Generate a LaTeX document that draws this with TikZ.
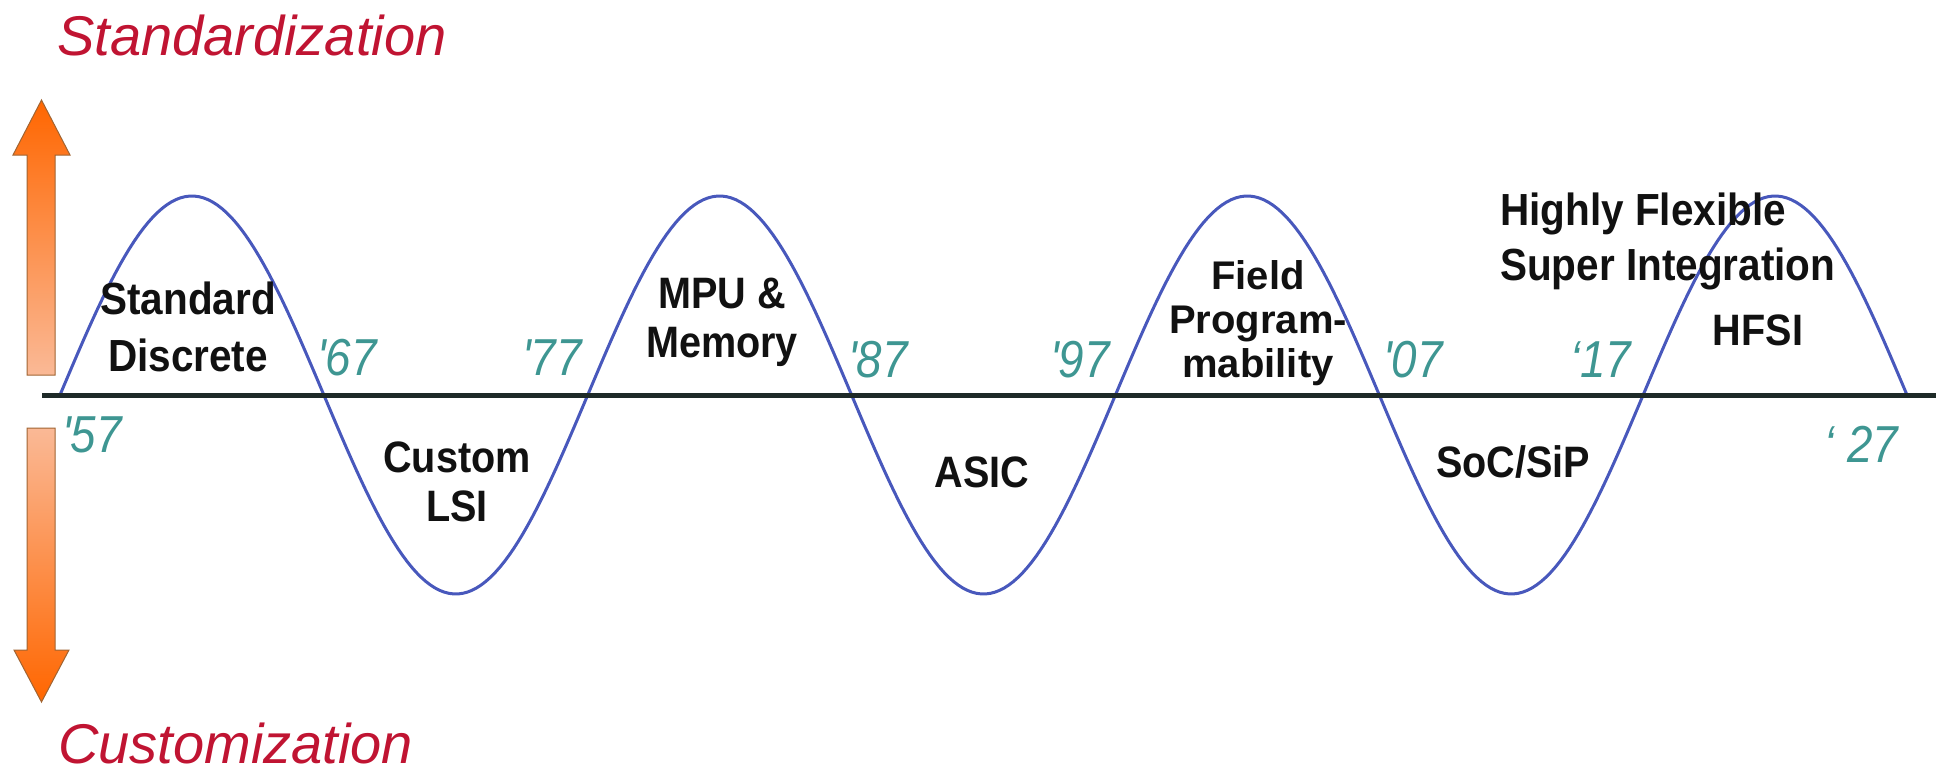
\documentclass[tikz,border=0pt]{standalone}
\usepackage{fontspec}
\setmainfont{Liberation Sans}
\newfontfamily\lblfont[FakeStretch=0.9]{Liberation Sans}
\newfontfamily\widefont{Liberation Sans}
\newfontfamily\yrfont[FakeStretch=0.88,Ligatures=TeXOff]{Liberation Sans}
\definecolor{crimsonred}{RGB}{192,20,50}
\definecolor{yrteal}{RGB}{62,150,146}
\definecolor{waveblue}{RGB}{72,88,188}
\definecolor{axisdark}{RGB}{30,42,40}
\definecolor{arrorange}{RGB}{255,102,0}
\definecolor{arrpeach}{RGB}{250,185,150}
\definecolor{arredge}{RGB}{160,100,50}
\definecolor{lblblack}{RGB}{17,17,17}
\begin{document}
\begin{tikzpicture}[x=1pt,y=-1pt,
 lbl/.style={font=\lblfont\bfseries\fontsize{44}{49}\selectfont, align=center, inner sep=0pt, text=lblblack},
 lbls/.style={font=\lblfont\bfseries\fontsize{45}{57}\selectfont, align=center, inner sep=0pt, text=lblblack},
 lblf/.style={font=\widefont\bfseries\fontsize{40}{44}\selectfont, align=center, inner sep=0pt, text=lblblack},
 lblh/.style={font=\lblfont\bfseries\fontsize{45}{55}\selectfont, align=left, anchor=west, inner sep=0pt, text=lblblack},
 yr/.style={font=\yrfont\itshape\fontsize{52}{52}\selectfont, text=yrteal, inner sep=0pt, anchor=base west},
 title/.style={font=\itshape\fontsize{56}{56}\selectfont, text=crimsonred, inner sep=0pt, anchor=base west},
 wave/.style={draw=waveblue, line width=3pt},
 axisline/.style={draw=axisdark, line width=5pt},
 uparr/.style={top color=arrorange, bottom color=arrpeach, draw=arredge, line width=1pt},
 dnarr/.style={top color=arrpeach, bottom color=arrorange, draw=arredge, line width=1pt},
]
\useasboundingbox (0,0) rectangle (1936,779);

% arrows
\shade[uparr] (27,375) -- (27,155) -- (13,155) -- (41.5,100) -- (70,155) -- (55,155) -- (55,375) -- cycle;
\shade[dnarr] (27,428) -- (27,650) -- (14,650) -- (41.5,702) -- (69,650) -- (55,650) -- (55,428) -- cycle;

% titles
\node[title] (std) at (57,55) {Standardization};
\node[title] (cust) at (58,763) {Customization};

% wave and axis
\draw[wave] plot[domain=60:1907,samples=400] (\x,{395-199*sin((\x-60)/263.857*180)});
\coordinate (axl) at (42,395);
\coordinate (axr) at (1936,395);
\draw[axisline] (axl) -- (axr);

% labels
\node[lbls] (sd) at (188,327) {Standard\\Discrete};
\node[lbl] (cl) at (457,482) {Custom\\LSI};
\node[lbl] (mm) at (722,322) {MPU \&\\Memory};
\node[lbl] (asic) at (982,472) {ASIC};
\node[lblf] (fp) at (1258,323) {Field\\Program-\\mability};
\node[lbl] (soc) at (1513,462) {SoC/SiP};
\node[lblh] (hf) at (1500,241) {Highly Flexible\\Super Integration};
\node[lbl] (hfsi) at (1758,330) {HFSI};

% years
\node[yr] (y57) at (62,452) {'57};
\node[yr] (y67) at (317,375) {'67};
\node[yr] (y77) at (522,375) {'77};
\node[yr] (y87) at (848,377) {'87};
\node[yr] (y97) at (1050,377) {'97};
\node[yr] (y07) at (1383,377) {'07};
\node[yr] (y17) at (1570,377) {‘17};
\node[yr] (y27) at (1824,462) {‘ 27};
\end{tikzpicture}
\end{document}
